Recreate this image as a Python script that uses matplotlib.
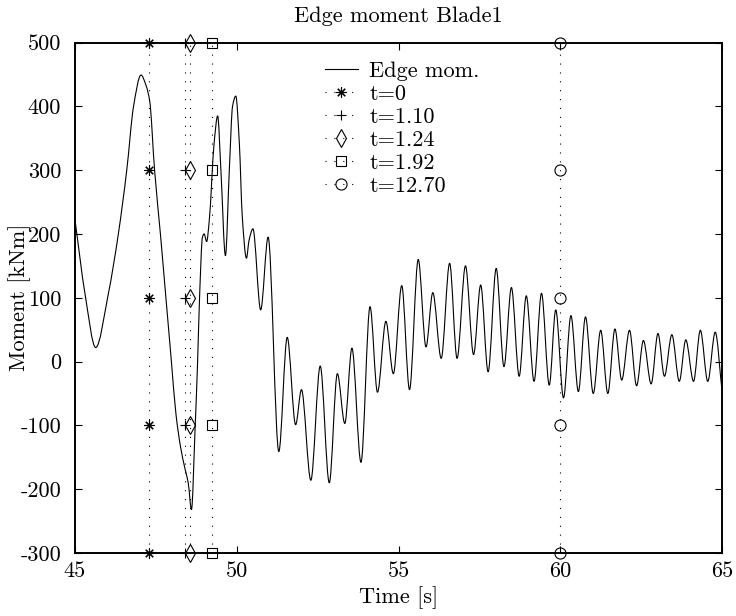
import numpy as np
import matplotlib
matplotlib.use('Agg')
import matplotlib.pyplot as plt
from matplotlib.path import Path
from matplotlib.patches import PathPatch
from matplotlib.lines import Line2D

plt.rcParams['font.family'] = 'cmr10'
plt.rcParams['mathtext.fontset'] = 'cm'
plt.rcParams['axes.formatter.use_mathtext'] = True
plt.rcParams['font.size'] = 16

# Edge moment of blade 1 at the turning points
# time [s]
time = [45.00, 45.31, 45.64, 46.03, 46.34, 46.60, 46.81, 47.04, 47.20, 47.31,
        47.46, 47.64, 47.81, 47.98, 48.12, 48.26, 48.40, 48.50, 48.60, 48.71,
        48.79, 48.85, 48.94, 48.99, 49.07, 49.15, 49.30, 49.41, 49.51, 49.65,
        49.77, 49.87, 49.97, 50.08, 50.17, 50.30, 50.38, 50.50, 50.74, 50.97,
        51.30, 51.56, 51.82, 52.00, 52.29, 52.58, 52.86, 53.11, 53.34, 53.56,
        53.84, 54.12, 54.35, 54.61, 54.84, 55.10, 55.34, 55.61, 55.85, 56.06,
        56.32, 56.58, 56.81, 57.07, 57.32, 57.54, 57.77, 58.02, 58.26, 58.49,
        58.73, 58.95, 59.19, 59.42, 59.66, 59.86, 60.10, 60.33, 60.56, 60.78,
        61.02, 61.25, 61.47, 61.69, 61.90, 62.14, 62.36, 62.57, 62.81, 63.02,
        63.22, 63.45, 63.68, 63.88, 64.12, 64.33, 64.56, 64.79, 65.00]
# moment [kNm]
moment = [222, 106, 22, 106, 200, 300, 400, 449, 432, 408,
          300, 200, 100, 0, -82, -133, -168, -190, -232, -108,
          0, 100, 195, 200, 188, 221, 342, 385, 300, 166,
          300, 400, 416, 342, 228, 162, 190, 208, 81, 195,
          -141, 38, -99, -44, -186, -7, -190, -19, -97, 21,
          -158, 86, -48, 63, -19, 119, -44, 160, 23, 108,
          5, 154, 5, 150, 11, 120, -16, 146, -8, 116,
          -23, 103, -31, 107, -37, 81, -57, 72, -47, 70,
          -50, 49, -50, 51, -29, 49, -38, 33, -35, 44,
          -23, 42, -31, 34, -31, 49, -31, 46, -46]

# time marks
t_start = 47.3
t_offsets = [0, 1.10, 1.24, 1.92, 12.70]
event_labels = ['t=0', 't=1.10', 't=1.24', 't=1.92', 't=12.70']
event_markers = [(8, 2, 0), '+', 'd', 's', 'o']
marker_sizes = [7.5, 7.5, 9.2, 7.4, 8]
mark_levels = [-300, -100, 100, 300, 500]

xticks = [45, 50, 55, 60, 65]
yticks = [-300, -200, -100, 0, 100, 200, 300, 400, 500]
ytick_labels = ['-300', '-200', '-100', '0', '100', '200', '300', '400', '500']

fig = plt.figure(figsize=(7.36, 6.16), dpi=100)
ax = fig.add_axes([0.1019, 0.1023, 0.8791, 0.8287])

# smooth curve through the read points (monotone cubic, drawn as bezier)
t = np.array(time, dtype=float)
v = np.array(moment, dtype=float)
h = np.diff(t)
d = np.diff(v) / h
m = np.zeros_like(v)
for i in range(1, len(v) - 1):
    if d[i-1] * d[i] > 0:
        w1 = 2*h[i] + h[i-1]
        w2 = h[i] + 2*h[i-1]
        m[i] = (w1 + w2) / (w1/d[i-1] + w2/d[i])
m[0] = d[0]
m[-1] = d[-1]

verts = [(t[0], v[0])]
codes = [Path.MOVETO]
for i in range(len(t) - 1):
    verts.append((t[i] + h[i]/3, v[i] + m[i]*h[i]/3))
    verts.append((t[i+1] - h[i]/3, v[i+1] - m[i+1]*h[i]/3))
    verts.append((t[i+1], v[i+1]))
    codes += [Path.CURVE4] * 3
ax.add_patch(PathPatch(Path(verts, codes), facecolor='none', edgecolor='k', lw=0.8))

event_lines = []
for off, mk, ms in zip(t_offsets, event_markers, marker_sizes):
    ln, = ax.plot([t_start + off] * len(mark_levels), mark_levels, color='k',
                  lw=0.8, linestyle=(0, (1, 7)), marker=mk, markersize=ms,
                  markerfacecolor='none', markeredgecolor='k',
                  markeredgewidth=0.8, clip_on=False, zorder=5)
    event_lines.append(ln)

ax.set_xlim(45, 65)
ax.set_ylim(-300, 500)
ax.set_xticks(xticks, labels=[str(x) for x in xticks])
ax.set_yticks(yticks, labels=ytick_labels)
ax.tick_params(direction='in', top=True, right=True, length=5, width=0.8)
ax.tick_params(axis='x', pad=6)
ax.tick_params(axis='y', pad=10)
for sp in ax.spines.values():
    sp.set_linewidth(1.4)

ax.set_title('Edge moment Blade1', fontsize=16, pad=15)
ax.set_xlabel('Time [s]')
ax.set_ylabel('Moment [kNm]')
ax.xaxis.set_label_coords(0.5, -0.066)
ax.yaxis.set_label_coords(-0.068, 0.5)

handles = [Line2D([], [], color='k', lw=0.8)] + event_lines
ax.legend(handles, ['Edge mom.'] + event_labels, loc='upper left',
          bbox_to_anchor=(0.386, 0.963), frameon=False, borderpad=0,
          borderaxespad=0, handlelength=1.5, handletextpad=0.5,
          labelspacing=0.155, numpoints=1)

fig.savefig('out.png', dpi=100)
